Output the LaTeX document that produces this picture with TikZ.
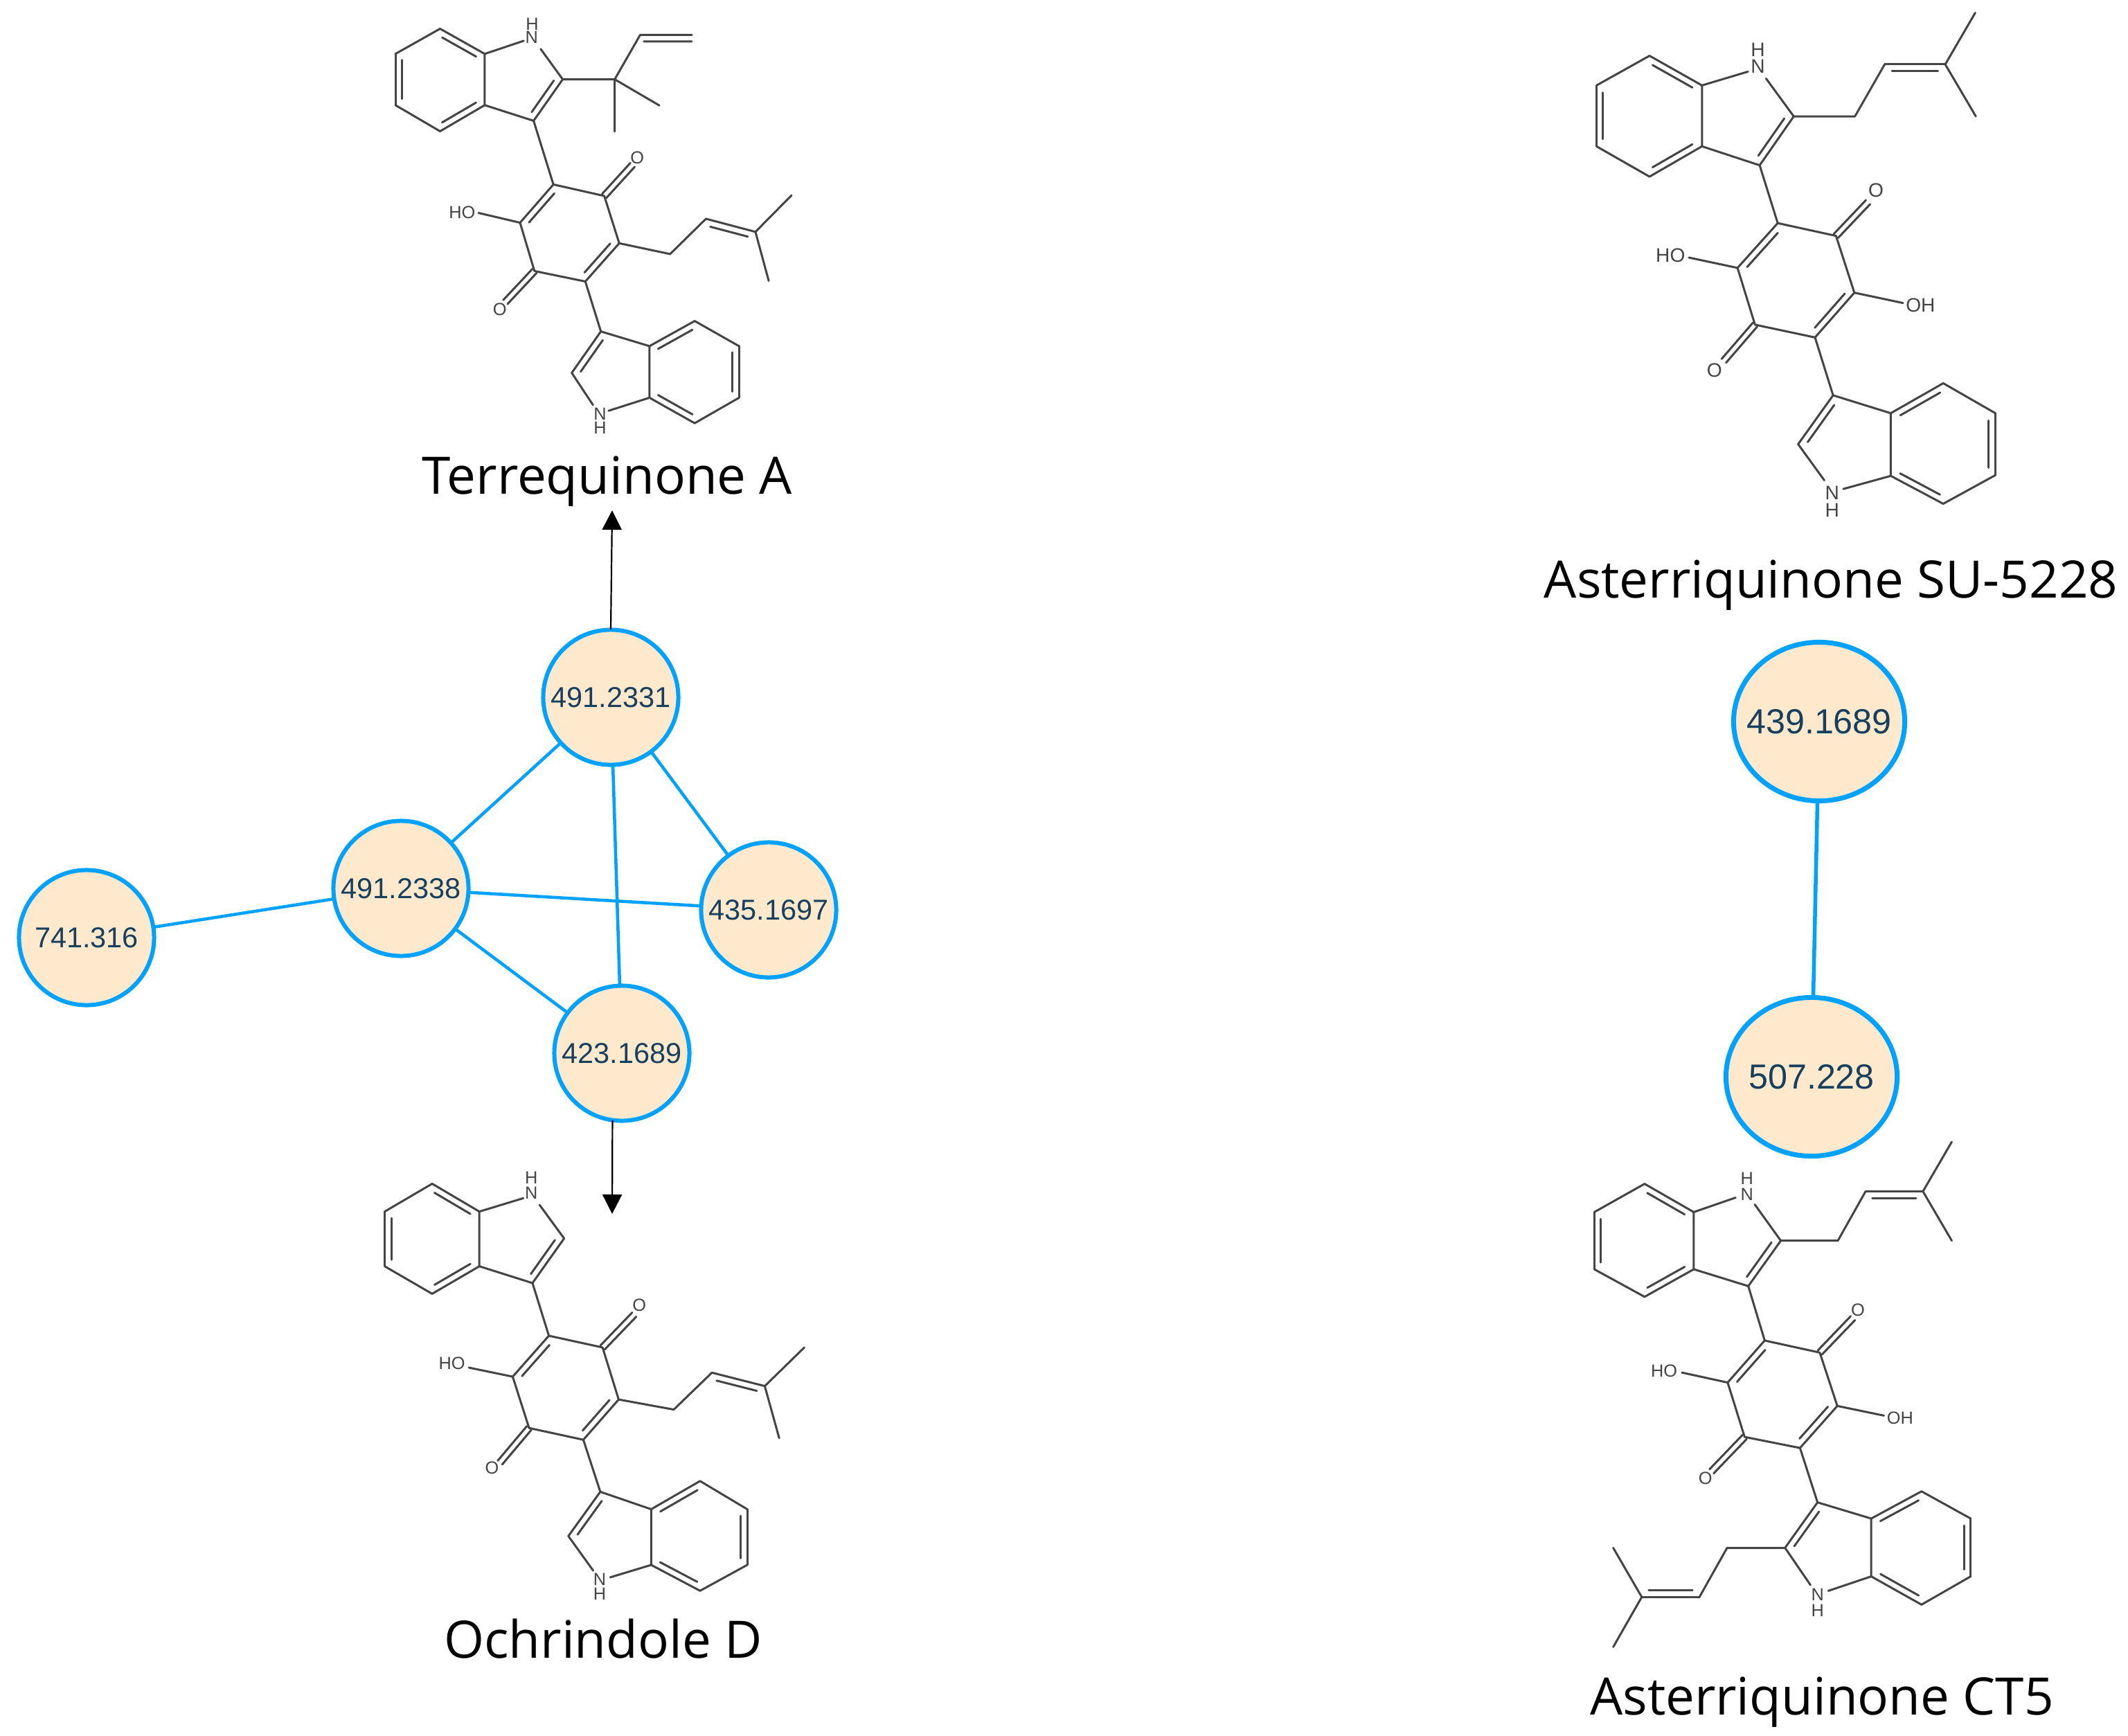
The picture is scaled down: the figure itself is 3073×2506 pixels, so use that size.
\documentclass[tikz,border=0pt]{standalone}
\usepackage{fontspec}
\setmainfont{Liberation Sans}
\newfontfamily\titlefont{Open Sans}
\usetikzlibrary{calc,shapes.geometric,arrows.meta}
\definecolor{edgeblue}{HTML}{00A2FF}
\definecolor{nodefill}{HTML}{FEE9CD}
\definecolor{nodetext}{HTML}{17405F}
\definecolor{bondgray}{HTML}{444444}
\tikzset{
  mz/.style={circle,draw=edgeblue,fill=nodefill,line width=0.06cm,minimum size=1.95cm,inner sep=0pt,outer sep=0pt,text=nodetext,font=\fontsize{11.8}{13}\selectfont},
  mzbig/.style={ellipse,draw=edgeblue,fill=nodefill,line width=0.07cm,minimum width=2.47cm,minimum height=2.29cm,inner sep=0pt,outer sep=0pt,text=nodetext,font=\fontsize{14.3}{17}\selectfont},
  link/.style={draw=edgeblue,line width=0.045cm},
  linkbig/.style={draw=edgeblue,line width=0.055cm},
  arrowline/.style={draw=black,line width=0.022cm,-{Triangle[length=0.28cm,width=0.28cm]}},
  bond/.style={draw=bondgray,line width=0.03cm,line cap=round,line join=round},
  atom/.style={inner sep=0pt,outer sep=0pt,text=bondgray,font=\fontsize{7.2}{8}\selectfont},
  atombig/.style={atom,font=\fontsize{8}{9}\selectfont},
  title/.style={anchor=base,inner sep=0pt,outer sep=0pt,text=black,font=\titlefont\fontsize{21.2}{24}\selectfont},
}
\def\dbl(#1)(#2){\draw[bond] (#1)--(#2);
  \draw[bond] ($(#1)!.12!(#2)!2.7pt!90:(#2)$) -- ($(#2)!.12!(#1)!2.7pt!-90:(#1)$);}
\def\dblo(#1)(#2){\draw[bond] ($(#1)!1.2pt!90:(#2)$) -- ($(#2)!1.2pt!-90:(#1)$);
  \draw[bond] ($(#1)!1.2pt!-90:(#2)$) -- ($(#2)!1.2pt!90:(#1)$);}
\begin{document}
\begin{tikzpicture}[x=0.01cm,y=-0.01cm]
\useasboundingbox (0,0) rectangle (3073,2506);
\fill[white] (0,0) rectangle (3073,2506);

% ---------- Terrequinone A
\begin{scope}[shift={(540,0)},x={0.01cm/2.45},y={-0.01cm/2.119}]
\draw[bond] (234,88)--(76,165)  (76,322)--(234,402)  (392,322)--(392,165);
\dbl(392,165)(234,88) \dbl(76,165)(76,322) \dbl(234,402)(392,322)
\draw[bond] (392,165)--(530,125) (590,150)--(668,243) (565,370)--(392,322);
\dbl(565,370)(668,243)
\draw[bond] (668,243)--(852,243)--(942,107)--(1125,107) (955,127)--(1125,127) (852,243)--(1010,323) (852,243)--(852,403);
\draw[bond] (565,370)--(635,565) (635,565)--(815,600)--(868,745) (748,862)--(568,830)--(517,682);
\dbl(635,565)(517,682) \dbl(748,862)(868,745)
\dblo(815,600)(915,505) \dblo(568,830)(465,925)
\draw[bond] (517,682)--(370,652) (868,745)--(1048,778)--(1175,670) (1350,710)--(1478,598) (1350,710)--(1397,860);
\dbl(1350,710)(1175,670)
\draw[bond] (748,862)--(803,1015);
\dbl(803,1015)(700,1142)
\draw[bond] (700,1142)--(775,1240) (830,1258)--(975,1218)--(975,1060)--(803,1015);
\dbl(1135,983)(975,1060) \dbl(975,1218)(1135,1296) \dbl(1292,1218)(1292,1060)
\draw[bond] (1135,983)--(1292,1060) (1292,1218)--(1135,1296);
\node[atom] (t1) at (558,115) {N};
\node[atom] (t2) at (560,74) {H};
\node[atom] (t3) at (932,482) {O};
\node[atom] (t4) at (445,947) {O};
\node[atom] (t5) at (312,650) {HO};
\node[atom] (t6) at (800,1268) {N};
\node[atom] (t7) at (800,1310) {H};
\end{scope}

% ---------- Ochrindole D
\begin{scope}[shift={(520,1660)},x={0.01cm/2.45},y={-0.01cm/2.063}]
\draw[bond] (255,102)--(87,185) (87,348)--(255,430) (422,348)--(422,185);
\dbl(422,185)(255,102) \dbl(87,185)(87,348) \dbl(255,430)(422,348)
\draw[bond] (422,185)--(578,145) (635,165)--(722,265) (610,398)--(422,348);
\dbl(610,398)(722,265)
\draw[bond] (610,398)--(668,555) (668,555)--(858,590)--(915,745) (790,865)--(598,830)--(540,677);
\dbl(668,555)(540,677) \dbl(790,865)(915,745)
\dblo(858,590)(970,492) \dblo(598,830)(495,933)
\draw[bond] (540,677)--(385,650) (915,745)--(1110,775)--(1245,665) (1432,705)--(1572,590) (1432,705)--(1483,860);
\dbl(1432,705)(1245,665)
\draw[bond] (790,865)--(850,1020);
\dbl(850,1020)(737,1152)
\draw[bond] (737,1152)--(825,1255) (885,1275)--(1030,1238)--(1030,1072)--(850,1020);
\dbl(1203,988)(1030,1072) \dbl(1030,1238)(1203,1315) \dbl(1370,1238)(1370,1072)
\draw[bond] (1203,988)--(1370,1072) (1370,1238)--(1203,1315);
\node[atom] (o1) at (606,130) {N};
\node[atom] (o2) at (606,84) {H};
\node[atom] (o3) at (988,463) {O};
\node[atom] (o4) at (467,948) {O};
\node[atom] (o5) at (325,638) {HO};
\node[atom] (o6) at (848,1280) {N};
\node[atom] (o7) at (848,1325) {H};
\end{scope}

% ---------- Asterriquinone SU-5228
\begin{scope}[shift={(2260,0)},x={0.01cm/2.376},y={-0.01cm/2.01}]
\draw[bond] (290,162)--(108,248) (108,425)--(290,513) (470,425)--(470,248);
\dbl(470,248)(290,162) \dbl(108,248)(108,425) \dbl(290,513)(470,425)
\draw[bond] (470,248)--(628,208) (690,228)--(785,338) (668,480)--(470,425);
\dbl(668,480)(785,338)
\draw[bond] (785,338)--(995,338)--(1097,187) (1305,187)--(1408,37) (1305,187)--(1410,338);
\dbl(1305,187)(1097,187)
\draw[bond] (668,480)--(730,648) (730,648)--(930,685)--(993,850) (858,980)--(652,943)--(592,778);
\dbl(730,648)(592,778) \dbl(858,980)(993,850)
\dblo(930,685)(1040,587) \dblo(652,943)(545,1048)
\draw[bond] (592,778)--(425,748) (993,850)--(1160,880) (858,980)--(920,1148);
\dbl(920,1148)(800,1290)
\draw[bond] (800,1290)--(890,1395) (955,1420)--(1118,1382)--(1118,1200)--(920,1148);
\dbl(1298,1113)(1118,1200) \dbl(1118,1382)(1298,1463) \dbl(1477,1380)(1477,1200)
\draw[bond] (1298,1113)--(1477,1200) (1477,1380)--(1298,1463);
\node[atombig] (s1) at (662,193) {N};
\node[atombig] (s2) at (662,144) {H};
\node[atombig] (s3) at (1067,553) {O};
\node[atombig] (s4) at (513,1075) {O};
\node[atombig] (s5) at (362,742) {HO};
\node[atombig] (s6) at (1220,887) {OH};
\node[atombig] (s7) at (917,1431) {N};
\node[atombig] (s8) at (917,1481) {H};
\end{scope}

% ---------- Asterriquinone CT5
\begin{scope}[shift={(2290,1640)},x={0.01cm/2.45},y={-0.01cm/2.01}]
\draw[bond] (208,140)--(30,222) (30,388)--(208,468) (382,388)--(382,222);
\dbl(382,222)(208,140) \dbl(30,222)(30,388) \dbl(208,468)(382,388)
\draw[bond] (382,222)--(530,180) (598,200)--(690,305) (575,437)--(382,388);
\dbl(575,437)(690,305)
\draw[bond] (690,305)--(892,305)--(990,162) (1193,162)--(1295,18) (1193,162)--(1295,305);
\dbl(1193,162)(990,162)
\draw[bond] (575,437)--(633,595) (633,595)--(828,630)--(890,785) (758,907)--(562,875)--(502,717);
\dbl(633,595)(502,717) \dbl(758,907)(890,785)
\dblo(828,630)(945,530) \dblo(562,875)(445,975)
\draw[bond] (502,717)--(340,688) (890,785)--(1055,813) (758,907)--(820,1065);
\dbl(820,1065)(705,1197)
\draw[bond] (705,1197)--(795,1305) (858,1322)--(1010,1280)--(1010,1112)--(820,1065);
\dbl(1188,1033)(1010,1112) \dbl(1010,1280)(1188,1362) \dbl(1362,1280)(1362,1112)
\draw[bond] (1188,1033)--(1362,1112) (1362,1280)--(1188,1362);
\draw[bond] (705,1197)--(500,1197)--(402,1340) (198,1340)--(97,1197) (198,1340)--(97,1485);
\dbl(198,1340)(402,1340)
\node[atom] (c1) at (570,170) {N};
\node[atom] (c2) at (570,125) {H};
\node[atom] (c3) at (963,507) {O};
\node[atom] (c4) at (423,995) {O};
\node[atom] (c5) at (277,683) {HO};
\node[atom] (c6) at (1112,820) {OH};
\node[atom] (c7) at (820,1332) {N};
\node[atom] (c8) at (820,1380) {H};
\end{scope}

% ---------- titles
\node[title] (tt1) at (877,713) {Terrequinone A};
\node[title] (tt2) at (871,2394) {Ochrindole D};
\node[title] (tt3) at (2644,863) {Asterriquinone SU-5228};
\node[title] (tt4) at (2631,2476) {Asterriquinone CT5};

% ---------- left network
\node[mz] (a) at (882,1007) {491.2331};
\node[mz] (b) at (579,1283) {491.2338};
\node[mz] (c) at (125,1354) {741.316};
\node[mz] (d) at (1110,1314) {435.1697};
\node[mz] (e) at (898,1521) {423.1689};
\draw[link] (a)--(b);
\draw[link] (a)--(d);
\draw[link] (a)--(e);
\draw[link] (b)--(c);
\draw[link] (b)--(d);
\draw[link] (b)--(e);
\coordinate (up) at (884,737);
\coordinate (down) at (884,1753);
\draw[arrowline] (a.north)--(up);
\draw[arrowline] (e.-98)--(down);

% ---------- right network
\node[mzbig] (f) at (2627,1042) {\makebox[0pt]{439.1689}};
\node[mzbig] (g) at (2616,1555) {\makebox[0pt]{507.228}};
\draw[linkbig] (f)--(g);
\end{tikzpicture}
\end{document}
